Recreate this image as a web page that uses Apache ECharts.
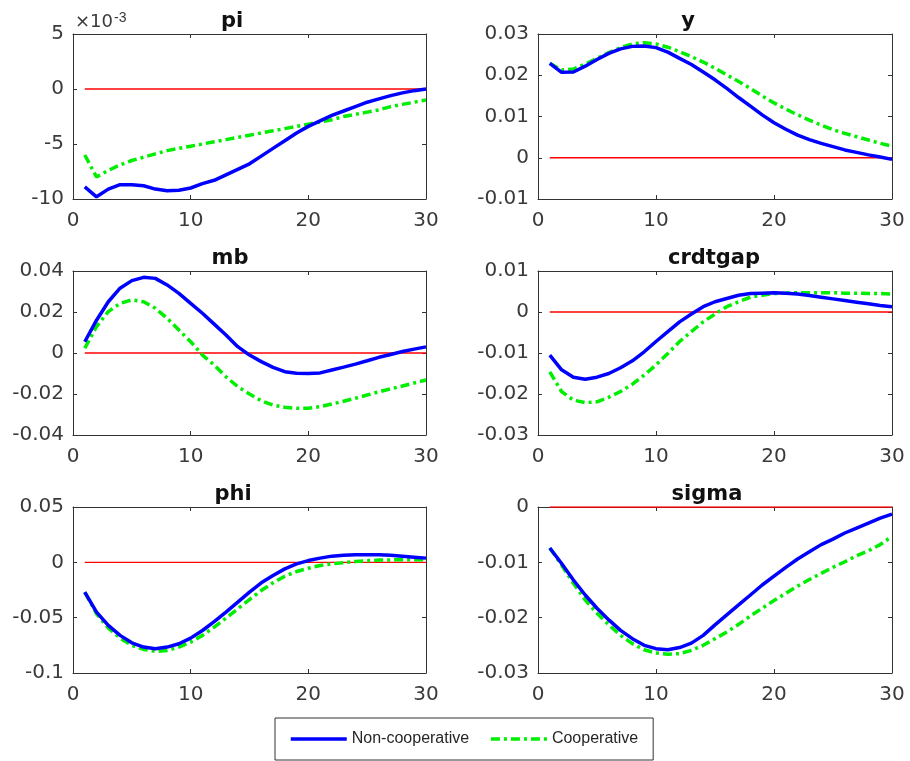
<!DOCTYPE html>
<html>
<head>
<meta charset="utf-8">
<script src="https://cdn.jsdelivr.net/npm/echarts@6/dist/echarts.min.js"></script>
<style>
  html, body { margin: 0; padding: 0; background: #fff; }
  #chart { width: 910px; height: 761px; }
</style>
</head>
<body>
<div id="chart"></div>
<script>
// periods after the shock
const periods = [1, 2, 3, 4, 5, 6, 7, 8, 9, 10, 11, 12, 13, 14, 15, 16, 17, 18, 19, 20, 21, 22, 23, 24, 25, 26, 27, 28, 29, 30];
const xTicks = [0, 10, 20, 30];

// pi is plotted in units of 1e-3
const piNonCoop = [-8.9, -9.8, -9.1, -8.7, -8.7, -8.8, -9.1, -9.25, -9.2, -9.0, -8.6, -8.3, -7.8, -7.3, -6.8, -6.1, -5.4, -4.7, -4.0, -3.4, -2.9, -2.4, -2.0, -1.6, -1.2, -0.9, -0.6, -0.35, -0.15, 0.0];
const piCoop = [-6.0, -8.0, -7.4, -6.9, -6.5, -6.2, -5.9, -5.6, -5.4, -5.2, -5.0, -4.8, -4.6, -4.4, -4.2, -4.0, -3.8, -3.6, -3.4, -3.2, -3.0, -2.8, -2.5, -2.3, -2.1, -1.9, -1.6, -1.4, -1.2, -1.0];

const yNonCoop = [0.0229, 0.0207, 0.0208, 0.0222, 0.0238, 0.0253, 0.0264, 0.0270, 0.0271, 0.0267, 0.0256, 0.0241, 0.0226, 0.0208, 0.0189, 0.0168, 0.0146, 0.0125, 0.0104, 0.0085, 0.0069, 0.0055, 0.0044, 0.0035, 0.0027, 0.0019, 0.0013, 0.0007, 0.0002, -0.0004];
const yCoop = [0.0229, 0.0213, 0.0215, 0.0227, 0.0241, 0.0255, 0.0267, 0.0276, 0.0279, 0.0276, 0.0268, 0.0257, 0.0245, 0.0232, 0.0217, 0.0201, 0.0185, 0.0168, 0.0150, 0.0133, 0.0118, 0.0104, 0.0091, 0.0079, 0.0068, 0.0059, 0.0051, 0.0043, 0.0035, 0.0028];

const mbNonCoop = [0.0055, 0.0160, 0.0250, 0.0316, 0.0353, 0.0369, 0.0364, 0.0332, 0.0291, 0.0242, 0.0194, 0.0141, 0.0088, 0.0031, -0.0010, -0.0042, -0.0070, -0.0091, -0.0099, -0.0100, -0.0097, -0.0083, -0.0069, -0.0054, -0.0038, -0.0021, -0.0007, 0.0007, 0.0019, 0.0030];
const mbCoop = [0.0023, 0.0129, 0.0202, 0.0242, 0.0259, 0.0250, 0.0218, 0.0169, 0.0112, 0.0055, -0.0010, -0.0059, -0.0116, -0.0164, -0.0200, -0.0233, -0.0254, -0.0265, -0.0270, -0.0270, -0.0262, -0.0249, -0.0235, -0.0221, -0.0205, -0.0189, -0.0175, -0.0161, -0.0146, -0.0132];

const crdtgapNonCoop = [-0.0105, -0.0141, -0.0159, -0.0164, -0.0159, -0.0150, -0.0136, -0.0119, -0.0097, -0.0072, -0.0048, -0.0024, -0.0005, 0.0013, 0.0025, 0.0033, 0.0041, 0.0045, 0.0046, 0.0047, 0.0046, 0.0044, 0.0040, 0.0036, 0.0032, 0.0028, 0.0024, 0.0020, 0.0016, 0.0013];
const crdtgapCoop = [-0.0146, -0.0194, -0.0215, -0.0221, -0.0219, -0.0208, -0.0194, -0.0176, -0.0154, -0.0129, -0.0101, -0.0072, -0.0048, -0.0024, -0.0005, 0.0013, 0.0025, 0.0036, 0.0041, 0.0045, 0.0046, 0.0047, 0.0047, 0.0047, 0.0047, 0.0046, 0.0046, 0.0045, 0.0045, 0.0044];

const phiNonCoop = [-0.0269, -0.0450, -0.0570, -0.0660, -0.0727, -0.0766, -0.0781, -0.0766, -0.0736, -0.0685, -0.0616, -0.0535, -0.0450, -0.0360, -0.0269, -0.0185, -0.0119, -0.0059, -0.0014, 0.0016, 0.0038, 0.0056, 0.0063, 0.0068, 0.0069, 0.0068, 0.0063, 0.0056, 0.0047, 0.0038];
const phiCoop = [-0.0270, -0.0465, -0.0595, -0.0685, -0.0751, -0.0787, -0.0805, -0.0796, -0.0766, -0.0721, -0.0660, -0.0585, -0.0504, -0.0420, -0.0336, -0.0255, -0.0185, -0.0125, -0.0083, -0.0053, -0.0029, -0.0014, -0.0003, 0.0007, 0.0014, 0.0020, 0.0022, 0.0023, 0.0023, 0.0023];

const sigmaNonCoop = [-0.0074, -0.0102, -0.0132, -0.0159, -0.0183, -0.0204, -0.0223, -0.0238, -0.0250, -0.0256, -0.0258, -0.0254, -0.0246, -0.0232, -0.0213, -0.0195, -0.0177, -0.0159, -0.0141, -0.0125, -0.0109, -0.0094, -0.0081, -0.0068, -0.0058, -0.0047, -0.0038, -0.0029, -0.0020, -0.0013];
const sigmaCoop = [-0.0074, -0.0105, -0.0138, -0.0168, -0.0192, -0.0213, -0.0232, -0.0247, -0.0258, -0.0264, -0.0266, -0.0265, -0.0259, -0.0250, -0.0238, -0.0226, -0.0212, -0.0197, -0.0183, -0.0169, -0.0156, -0.0143, -0.0131, -0.0120, -0.0109, -0.0099, -0.0088, -0.0079, -0.0068, -0.0053];

const steadyState = 0;
const seriesNames = ['Non-cooperative', 'Cooperative'];

const panels = [
  { title: 'pi', a: piNonCoop, b: piCoop, min: -10, max: 5, interval: 5, left: 73, top: 34, width: 353, height: 165, titleX: 232 },
  { title: 'y', a: yNonCoop, b: yCoop, min: -0.01, max: 0.03, interval: 0.01, left: 538, top: 34, width: 354, height: 165, titleX: 688 },
  { title: 'mb', a: mbNonCoop, b: mbCoop, min: -0.04, max: 0.04, interval: 0.02, left: 73, top: 271, width: 353, height: 164, titleX: 230 },
  { title: 'crdtgap', a: crdtgapNonCoop, b: crdtgapCoop, min: -0.03, max: 0.01, interval: 0.01, left: 538, top: 271, width: 354, height: 164, titleX: 714 },
  { title: 'phi', a: phiNonCoop, b: phiCoop, min: -0.1, max: 0.05, interval: 0.05, left: 73, top: 507, width: 353, height: 166, titleX: 233 },
  { title: 'sigma', a: sigmaNonCoop, b: sigmaCoop, min: -0.03, max: 0, interval: 0.01, left: 538, top: 507, width: 354, height: 166, titleX: 707 }
];

const axisColor = '#333';
const labelFont = { fontFamily: 'DejaVu Sans', fontSize: 20, color: '#3a3a3a' };

const grid = [];
const xAxis = [];
const yAxis = [];
const series = [];
const title = [];

panels.forEach((p, i) => {
  grid.push({ left: p.left, top: p.top, width: p.width, height: p.height });
  title.push({
    text: p.title,
    left: p.titleX,
    top: p.top - 23,
    textAlign: 'center',
    padding: 0,
    textStyle: { fontFamily: 'DejaVu Sans', fontWeight: 'bold', fontSize: 21, color: '#111' }
  });
  const base = { gridIndex: i, type: 'value', splitLine: { show: false } };
  const line = { show: true, onZero: false, lineStyle: { color: axisColor, width: 1 } };
  const tick = { show: true, inside: true, length: 4, lineStyle: { color: axisColor } };
  xAxis.push(Object.assign({}, base, {
    position: 'bottom', min: xTicks[0], max: xTicks[xTicks.length - 1], interval: 10,
    axisLine: line, axisTick: tick,
    axisLabel: Object.assign({ margin: 12 }, labelFont)
  }));
  xAxis.push(Object.assign({}, base, {
    position: 'top', min: xTicks[0], max: xTicks[xTicks.length - 1], interval: 10,
    axisLine: line, axisTick: tick, axisLabel: { show: false }
  }));
  yAxis.push(Object.assign({}, base, {
    position: 'left', min: p.min, max: p.max, interval: p.interval,
    axisLine: line, axisTick: tick,
    axisLabel: Object.assign({ margin: 9 }, labelFont)
  }));
  yAxis.push(Object.assign({}, base, {
    position: 'right', min: p.min, max: p.max, interval: p.interval,
    axisLine: line, axisTick: tick, axisLabel: { show: false }
  }));

  const xi = i * 2, yi = i * 2;
  series.push({
    type: 'line', xAxisIndex: xi, yAxisIndex: yi, symbol: 'none', silent: true,
    data: [[periods[0], steadyState], [periods[periods.length - 1], steadyState]],
    lineStyle: { color: '#ff0000', width: 1.3 }, z: 1
  });
  series.push({
    name: seriesNames[1], type: 'line', xAxisIndex: xi, yAxisIndex: yi, symbol: 'none',
    data: periods.map((t, k) => [t, p.b[k]]),
    lineStyle: { color: '#00ee00', width: 3.5, type: [9, 4, 3, 4] },
    itemStyle: { color: '#00ee00' }, z: 2
  });
  series.push({
    name: seriesNames[0], type: 'line', xAxisIndex: xi, yAxisIndex: yi, symbol: 'none',
    data: periods.map((t, k) => [t, p.a[k]]),
    lineStyle: { color: '#0000ff', width: 3.5 },
    itemStyle: { color: '#0000ff' }, z: 3
  });
});

const chart = echarts.init(document.getElementById('chart'));
chart.setOption({
  animation: false,
  backgroundColor: '#fff',
  title: title,
  grid: grid,
  xAxis: xAxis,
  yAxis: yAxis,
  series: series,
  legend: {
    data: seriesNames,
    left: 275,
    top: 718,
    orient: 'horizontal',
    itemWidth: 56,
    itemHeight: 14,
    itemGap: 20,
    padding: [13, 15, 13, 14],
    borderColor: '#333',
    borderWidth: 1,
    backgroundColor: '#fff',
    itemStyle: { opacity: 0 },
    lineStyle: { width: 3.5 },
    textStyle: { fontFamily: 'Liberation Sans', fontSize: 16, color: '#262626' }
  },
  graphic: [{
    type: 'text',
    left: 75,
    top: 11,
    style: {
      text: '×10{sup|-3}',
      fontFamily: 'DejaVu Sans',
      fontSize: 18,
      fill: '#3a3a3a',
      rich: { sup: { fontSize: 14, verticalAlign: 'top', padding: [0, 0, 8, 1], fill: '#3a3a3a' } }
    }
  }]
});
</script>
</body>
</html>
